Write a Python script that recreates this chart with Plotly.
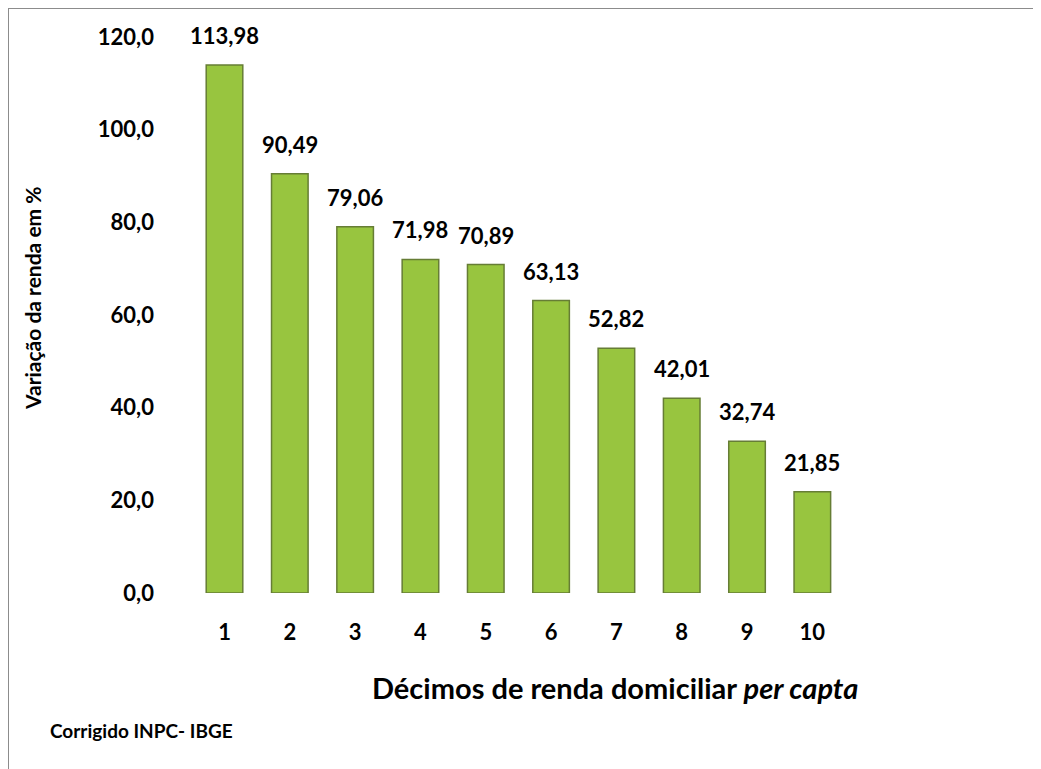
import plotly.graph_objects as go

categories = ["1", "2", "3", "4", "5", "6", "7", "8", "9", "10"]
values = [113.98, 90.49, 79.06, 71.98, 70.89, 63.13, 52.82, 42.01, 32.74, 21.85]
value_labels = ["113,98", "90,49", "79,06", "71,98", "70,89", "63,13", "52,82", "42,01", "32,74", "21,85"]
y_tickvals = [0, 20, 40, 60, 80, 100, 120]
y_ticktext = ["0,0", "20,0", "40,0", "60,0", "80,0", "100,0", "120,0"]

FONT = "Lato, 'Open Sans', sans-serif"

fig = go.Figure()
fig.add_trace(go.Bar(
    x=categories, y=values,
    marker=dict(color="#98C53F", line=dict(color="#667D35", width=1.5)),
    width=0.56,
    cliponaxis=False,
))

# body margin of the page shifts everything by 8px; work in screen pixels
OFF = 8
W, H = 1041, 769
L, T = 188 - OFF, 37 - OFF
R = W - (845 - OFF)
B = H - (593 - OFF)
pw, ph = W - L - R, H - T - B

def px(x):
    return (x - OFF - L) / pw

def py(y):
    return (H - B - (y - OFF)) / ph

annotations = [
    dict(x=i, y=v, text=f"<b>{t}</b>", xref="x", yref="y", showarrow=False,
         yanchor="bottom", yshift=14, font=dict(family=FONT, size=22, color="#000000"))
    for i, (v, t) in enumerate(zip(values, value_labels))
]
annotations += [
    dict(text="<b>Variação da renda em %</b>", textangle=-90,
         xref="paper", yref="paper", x=px(32), y=py(298),
         showarrow=False, font=dict(family=FONT, size=21), xanchor="center", yanchor="middle"),
    dict(text="<b>Décimos de renda domiciliar <i>per capta</i></b>",
         xref="paper", yref="paper", x=px(615), y=py(687),
         showarrow=False, font=dict(family=FONT, size=29), xanchor="center", yanchor="middle"),
    dict(text="<b>Corrigido INPC- IBGE</b>",
         xref="paper", yref="paper", x=px(48), y=py(730),
         showarrow=False, font=dict(family=FONT, size=19), xanchor="left", yanchor="middle"),
]

fig.update_layout(
    width=W, height=H,
    margin=dict(l=L, r=R, t=T, b=B),
    paper_bgcolor="white", plot_bgcolor="white",
    showlegend=False,
    font=dict(family=FONT, color="#000000"),
    xaxis=dict(
        type="category",
        showgrid=False, showline=False, zeroline=False,
        tickfont=dict(family=FONT, size=22, weight="bold"),
        ticklabelstandoff=24,
    ),
    yaxis=dict(
        range=[0, 120], showgrid=False, showline=False, zeroline=False,
        tickvals=y_tickvals, ticktext=y_ticktext,
        tickfont=dict(family=FONT, size=22, weight="bold"),
        ticklabelstandoff=33,
    ),
    annotations=annotations,
    shapes=[
        dict(type="line", xref="paper", yref="paper",
             x0=px(8), x1=px(8), y0=py(8), y1=py(800),
             line=dict(color="#8c8c8c", width=2)),
        dict(type="line", xref="paper", yref="paper",
             x0=px(8), x1=px(1060), y0=py(8), y1=py(8),
             line=dict(color="#8c8c8c", width=2)),
    ],
)

fig.write_html("out.html")
